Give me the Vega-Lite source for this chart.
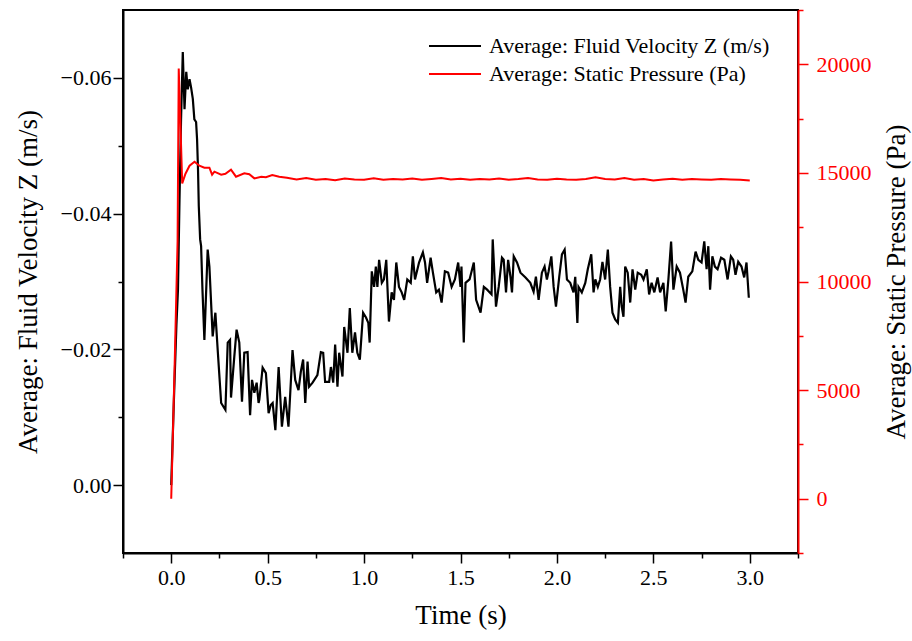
{
  "$schema": "https://vega.github.io/schema/vega-lite/v6.json",
  "width": 675,
  "height": 543,
  "autosize": {"type": "none"},
  "padding": {"left": 123, "top": 10, "right": 114, "bottom": 88},
  "background": "white",
  "config": {
    "font": "Liberation Serif",
    "view": {"stroke": "black", "strokeWidth": 2},
    "axis": {"grid": false, "labelFont": "Liberation Serif", "titleFont": "Liberation Serif", "titleFontWeight": "normal", "labelFontSize": 22, "titleFontSize": 27, "labelFlush": false, "labelOverlap": false, "domainWidth": 2, "tickWidth": 1.5},
    "text": {"font": "Liberation Serif"}
  },
  "datasets": {
    "vel": [
      {"t":0,"v":0},{"t":0.014,"v":-0.0126},{"t":0.027,"v":-0.0236},{"t":0.035,"v":-0.0288},{"t":0.043,"v":-0.0421},{"t":0.051,"v":-0.0539},{"t":0.060,"v":-0.0638},{"t":0.069,"v":-0.0554},{"t":0.078,"v":-0.0609},{"t":0.086,"v":-0.0583},{"t":0.095,"v":-0.0598},{"t":0.103,"v":-0.0586},{"t":0.112,"v":-0.0569},{"t":0.120,"v":-0.0539},{"t":0.129,"v":-0.0535},{"t":0.134,"v":-0.0510},{"t":0.139,"v":-0.0465},{"t":0.143,"v":-0.0411},{"t":0.150,"v":-0.0362},{"t":0.155,"v":-0.0352},{"t":0.162,"v":-0.0288},{"t":0.172,"v":-0.0214},{"t":0.189,"v":-0.0347},{"t":0.198,"v":-0.0322},{"t":0.215,"v":-0.0219},{"t":0.229,"v":-0.0254},{"t":0.241,"v":-0.0199},{"t":0.259,"v":-0.0121},{"t":0.281,"v":-0.0111},{"t":0.293,"v":-0.0210},{"t":0.305,"v":-0.0214},{"t":0.310,"v":-0.0129},{"t":0.327,"v":-0.0189},{"t":0.339,"v":-0.0229},{"t":0.353,"v":-0.0210},{"t":0.367,"v":-0.0123},{"t":0.379,"v":-0.0195},{"t":0.396,"v":-0.0196},{"t":0.409,"v":-0.0103},{"t":0.419,"v":-0.0155},{"t":0.431,"v":-0.0136},{"t":0.443,"v":-0.0151},{"t":0.453,"v":-0.0121},{"t":0.457,"v":-0.0126},{"t":0.474,"v":-0.0173},{"t":0.491,"v":-0.0165},{"t":0.505,"v":-0.0106},{"t":0.516,"v":-0.0118},{"t":0.526,"v":-0.0121},{"t":0.540,"v":-0.0081},{"t":0.557,"v":-0.0174},{"t":0.574,"v":-0.0086},{"t":0.591,"v":-0.0130},{"t":0.608,"v":-0.0086},{"t":0.629,"v":-0.0199},{"t":0.643,"v":-0.0155},{"t":0.660,"v":-0.0140},{"t":0.672,"v":-0.0167},{"t":0.684,"v":-0.0185},{"t":0.695,"v":-0.0121},{"t":0.707,"v":-0.0182},{"t":0.715,"v":-0.0145},{"t":0.733,"v":-0.0151},{"t":0.758,"v":-0.0162},{"t":0.776,"v":-0.0196},{"t":0.788,"v":-0.0195},{"t":0.798,"v":-0.0152},{"t":0.819,"v":-0.0152},{"t":0.828,"v":-0.0174},{"t":0.840,"v":-0.0151},{"t":0.850,"v":-0.0207},{"t":0.862,"v":-0.0145},{"t":0.871,"v":-0.0195},{"t":0.888,"v":-0.0160},{"t":0.897,"v":-0.0233},{"t":0.914,"v":-0.0195},{"t":0.926,"v":-0.0261},{"t":0.939,"v":-0.0195},{"t":0.953,"v":-0.0225},{"t":0.965,"v":-0.0195},{"t":0.978,"v":-0.0185},{"t":0.995,"v":-0.0254},{"t":1.010,"v":-0.0247},{"t":1.022,"v":-0.0239},{"t":1.029,"v":-0.0210},{"t":1.040,"v":-0.0315},{"t":1.052,"v":-0.0292},{"t":1.061,"v":-0.0322},{"t":1.069,"v":-0.0292},{"t":1.078,"v":-0.0332},{"t":1.092,"v":-0.0298},{"t":1.103,"v":-0.0303},{"t":1.115,"v":-0.0332},{"t":1.129,"v":-0.0241},{"t":1.143,"v":-0.0284},{"t":1.155,"v":-0.0273},{"t":1.167,"v":-0.0328},{"t":1.181,"v":-0.0292},{"t":1.195,"v":-0.0284},{"t":1.208,"v":-0.0273},{"t":1.224,"v":-0.0303},{"t":1.242,"v":-0.0298},{"t":1.253,"v":-0.0337},{"t":1.264,"v":-0.0303},{"t":1.285,"v":-0.0328},{"t":1.305,"v":-0.0343},{"t":1.316,"v":-0.0328},{"t":1.327,"v":-0.0298},{"t":1.345,"v":-0.0335},{"t":1.357,"v":-0.0313},{"t":1.374,"v":-0.0284},{"t":1.388,"v":-0.0288},{"t":1.402,"v":-0.0269},{"t":1.419,"v":-0.0315},{"t":1.436,"v":-0.0313},{"t":1.454,"v":-0.0292},{"t":1.471,"v":-0.0303},{"t":1.488,"v":-0.0328},{"t":1.500,"v":-0.0292},{"t":1.505,"v":-0.0322},{"t":1.517,"v":-0.0210},{"t":1.526,"v":-0.0298},{"t":1.547,"v":-0.0303},{"t":1.569,"v":-0.0328},{"t":1.581,"v":-0.0273},{"t":1.604,"v":-0.0254},{"t":1.621,"v":-0.0292},{"t":1.638,"v":-0.0288},{"t":1.661,"v":-0.0281},{"t":1.667,"v":-0.0362},{"t":1.684,"v":-0.0263},{"t":1.698,"v":-0.0292},{"t":1.715,"v":-0.0335},{"t":1.724,"v":-0.0332},{"t":1.736,"v":-0.0284},{"t":1.747,"v":-0.0332},{"t":1.759,"v":-0.0307},{"t":1.767,"v":-0.0284},{"t":1.776,"v":-0.0337},{"t":1.793,"v":-0.0328},{"t":1.811,"v":-0.0313},{"t":1.837,"v":-0.0306},{"t":1.862,"v":-0.0298},{"t":1.879,"v":-0.0285},{"t":1.891,"v":-0.0307},{"t":1.905,"v":-0.0273},{"t":1.922,"v":-0.0313},{"t":1.936,"v":-0.0322},{"t":1.948,"v":-0.0303},{"t":1.957,"v":-0.0315},{"t":1.971,"v":-0.0337},{"t":1.983,"v":-0.0292},{"t":1.995,"v":-0.0263},{"t":2.012,"v":-0.0307},{"t":2.026,"v":-0.0340},{"t":2.040,"v":-0.0347},{"t":2.052,"v":-0.0303},{"t":2.069,"v":-0.0298},{"t":2.086,"v":-0.0284},{"t":2.095,"v":-0.0307},{"t":2.106,"v":-0.0239},{"t":2.112,"v":-0.0292},{"t":2.129,"v":-0.0284},{"t":2.147,"v":-0.0298},{"t":2.160,"v":-0.0318},{"t":2.178,"v":-0.0340},{"t":2.190,"v":-0.0284},{"t":2.199,"v":-0.0303},{"t":2.212,"v":-0.0292},{"t":2.224,"v":-0.0303},{"t":2.236,"v":-0.0329},{"t":2.250,"v":-0.0303},{"t":2.264,"v":-0.0347},{"t":2.276,"v":-0.0292},{"t":2.288,"v":-0.0254},{"t":2.302,"v":-0.0244},{"t":2.316,"v":-0.0239},{"t":2.328,"v":-0.0292},{"t":2.336,"v":-0.0263},{"t":2.345,"v":-0.0248},{"t":2.354,"v":-0.0322},{"t":2.367,"v":-0.0313},{"t":2.380,"v":-0.0269},{"t":2.392,"v":-0.0318},{"t":2.406,"v":-0.0288},{"t":2.419,"v":-0.0313},{"t":2.437,"v":-0.0310},{"t":2.449,"v":-0.0303},{"t":2.466,"v":-0.0318},{"t":2.478,"v":-0.0281},{"t":2.491,"v":-0.0298},{"t":2.505,"v":-0.0284},{"t":2.522,"v":-0.0306},{"t":2.535,"v":-0.0284},{"t":2.552,"v":-0.0298},{"t":2.564,"v":-0.0256},{"t":2.578,"v":-0.0303},{"t":2.592,"v":-0.0359},{"t":2.604,"v":-0.0288},{"t":2.621,"v":-0.0322},{"t":2.638,"v":-0.0313},{"t":2.655,"v":-0.0288},{"t":2.667,"v":-0.0269},{"t":2.681,"v":-0.0307},{"t":2.702,"v":-0.0315},{"t":2.719,"v":-0.0344},{"t":2.733,"v":-0.0332},{"t":2.750,"v":-0.0328},{"t":2.764,"v":-0.0359},{"t":2.776,"v":-0.0318},{"t":2.785,"v":-0.0352},{"t":2.794,"v":-0.0288},{"t":2.806,"v":-0.0337},{"t":2.819,"v":-0.0322},{"t":2.833,"v":-0.0318},{"t":2.851,"v":-0.0335},{"t":2.868,"v":-0.0332},{"t":2.885,"v":-0.0303},{"t":2.902,"v":-0.0337},{"t":2.914,"v":-0.0332},{"t":2.926,"v":-0.0310},{"t":2.940,"v":-0.0329},{"t":2.957,"v":-0.0322},{"t":2.971,"v":-0.0306},{"t":2.983,"v":-0.0328},{"t":2.995,"v":-0.0276}
    ],
    "pres": [
      {"t":0,"p":0},{"t":0.017,"p":5860},{"t":0.033,"p":11836},{"t":0.039,"p":19808},{"t":0.057,"p":14518},{"t":0.074,"p":14964},{"t":0.095,"p":15332},{"t":0.121,"p":15516},{"t":0.146,"p":15332},{"t":0.172,"p":15240},{"t":0.198,"p":15240},{"t":0.212,"p":14918},{"t":0.224,"p":15056},{"t":0.259,"p":14918},{"t":0.281,"p":14960},{"t":0.310,"p":15148},{"t":0.336,"p":14826},{"t":0.379,"p":14978},{"t":0.405,"p":14940},{"t":0.431,"p":14748},{"t":0.467,"p":14826},{"t":0.491,"p":14800},{"t":0.524,"p":14904},{"t":0.560,"p":14826},
      {"t":0.60,"p":14780},{"t":0.65,"p":14700},{"t":0.70,"p":14760},{"t":0.75,"p":14690},{"t":0.80,"p":14720},{"t":0.85,"p":14660},{"t":0.90,"p":14740},{"t":0.95,"p":14700},{"t":1.00,"p":14680},{"t":1.05,"p":14750},{"t":1.10,"p":14690},{"t":1.15,"p":14720},{"t":1.20,"p":14700},{"t":1.25,"p":14740},{"t":1.30,"p":14680},{"t":1.35,"p":14720},{"t":1.40,"p":14760},{"t":1.45,"p":14700},{"t":1.50,"p":14730},{"t":1.55,"p":14680},{"t":1.60,"p":14720},{"t":1.65,"p":14700},{"t":1.70,"p":14740},{"t":1.75,"p":14690},{"t":1.80,"p":14720},{"t":1.85,"p":14760},{"t":1.90,"p":14700},{"t":1.95,"p":14680},{"t":2.00,"p":14730},{"t":2.05,"p":14700},{"t":2.10,"p":14680},{"t":2.15,"p":14720},{"t":2.20,"p":14800},{"t":2.25,"p":14720},{"t":2.30,"p":14700},{"t":2.35,"p":14760},{"t":2.40,"p":14690},{"t":2.45,"p":14720},{"t":2.50,"p":14650},{"t":2.55,"p":14700},{"t":2.60,"p":14730},{"t":2.65,"p":14690},{"t":2.70,"p":14720},{"t":2.75,"p":14700},{"t":2.80,"p":14680},{"t":2.85,"p":14720},{"t":2.90,"p":14700},{"t":2.95,"p":14680},{"t":3.00,"p":14650}
    ]
  },
  "layer": [
    {
      "data": {"name": "vel"},
      "mark": {"type": "line", "strokeWidth": 2.2},
      "encoding": {
        "x": {
          "field": "t", "type": "quantitative",
          "scale": {"domain": [-0.25, 3.25], "nice": false, "zero": false},
          "axis": {
            "title": "Time (s)",
            "values": [-0.25, 0, 0.25, 0.5, 0.75, 1, 1.25, 1.5, 1.75, 2, 2.25, 2.5, 2.75, 3, 3.25],
            "labelExpr": "round(abs(datum.value)*4) % 2 == 0 ? format(datum.value, '.1f') : ''",
            "tickSize": {"condition": {"test": "round(abs(datum.value)*4) % 2 == 0", "value": 10}, "value": 5},
            "labelFont": "Liberation Serif", "labelFontSize": 22,
            "labelPadding": 4,
            "titlePadding": 14,
            "domainColor": "black", "tickColor": "black", "labelColor": "black", "titleColor": "black"
          }
        },
        "y": {
          "field": "v", "type": "quantitative",
          "scale": {"domain": [-0.07, 0.01], "reverse": true, "nice": false, "zero": false},
          "axis": {
            "title": "Average: Fluid Velocity Z (m/s)",
            "values": [-0.06, -0.05, -0.04, -0.03, -0.02, -0.01, 0],
            "labelExpr": "round(abs(datum.value)*100) % 2 == 0 ? format(datum.value, '.2f') : ''",
            "tickSize": {"condition": {"test": "round(abs(datum.value)*100) % 2 == 0", "value": 10}, "value": 5},
            "labelFont": "Liberation Serif", "labelFontSize": 22,
            "labelPadding": 2,
            "titlePadding": 18,
            "domainColor": "black", "tickColor": "black", "labelColor": "black", "titleColor": "black"
          }
        },
        "color": {
          "datum": "Average: Fluid Velocity Z (m/s)", "type": "nominal",
          "scale": {"domain": ["Average: Fluid Velocity Z (m/s)", "Average: Static Pressure (Pa)"], "range": ["#000000", "#ff0000"]},
          "legend": {
            "title": null, "orient": "none", "legendX": 321, "legendY": 25,
            "symbolType": "M-2.6,0H2.6", "symbolSize": 400, "symbolStrokeWidth": 2,
            "labelFont": "Liberation Serif", "labelFontSize": 22, "labelColor": "black", "labelOffset": 23,
            "rowPadding": 6, "padding": 0, "labelLimit": 500
          }
        }
      }
    },
    {
      "data": {"name": "pres"},
      "mark": {"type": "line", "strokeWidth": 2},
      "encoding": {
        "x": {"field": "t", "type": "quantitative"},
        "y": {
          "field": "p", "type": "quantitative",
          "scale": {"domain": [-2500, 22500], "nice": false, "zero": false},
          "axis": {
            "orient": "right",
            "title": "Average: Static Pressure (Pa)",
            "titleAngle": 270,
            "titleBaseline": "top",
            "values": [-2500, 0, 2500, 5000, 7500, 10000, 12500, 15000, 17500, 20000, 22500],
            "labelExpr": "datum.value % 5000 == 0 ? format(datum.value, 'd') : ''",
            "tickSize": {"condition": {"test": "datum.value % 5000 == 0", "value": 10}, "value": 5},
            "labelFont": "Liberation Serif", "labelFontSize": 22,
            "labelPadding": 8,
            "titlePadding": 12,
            "domainColor": "#ff0000", "tickColor": "#ff0000", "labelColor": "#ff0000", "titleColor": "black"
          }
        },
        "color": {"datum": "Average: Static Pressure (Pa)", "type": "nominal"}
      }
    }
  ],
  "resolve": {"scale": {"y": "independent"}}
}
